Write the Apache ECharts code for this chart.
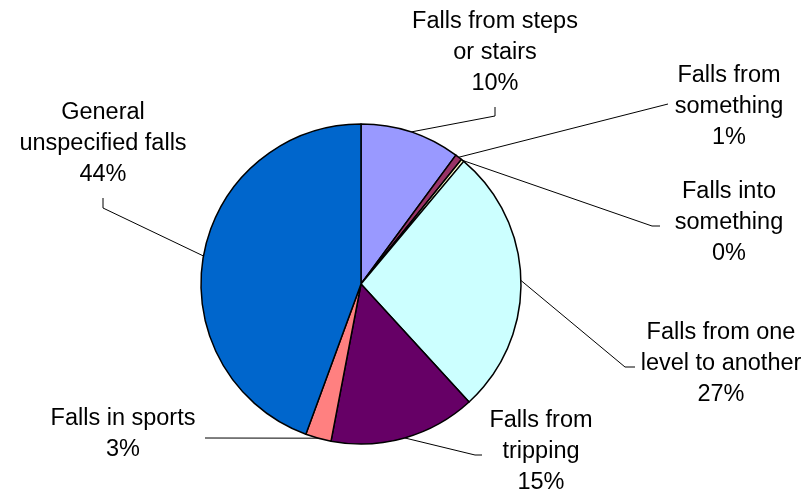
<!DOCTYPE html>
<html>
<head>
<meta charset="utf-8">
<script src="https://cdn.jsdelivr.net/npm/echarts@6/dist/echarts.min.js"></script>
<style>html,body{margin:0;padding:0;background:#fff}#c{width:808px;height:494px}</style>
</head>
<body>
<div id="c"></div>
<script>
var categories = [
  "Falls from steps\nor stairs",
  "Falls from\nsomething",
  "Falls into\nsomething",
  "Falls from one\nlevel to another",
  "Falls from\ntripping",
  "Falls in sports",
  "General\nunspecified falls"
];
var values = [10.1, 0.7, 0.3, 27.1, 14.8, 2.6, 44.4];
var colors = ["#9999FF", "#993366", "#FFFFCC", "#CCFFFF", "#660066", "#FF8080", "#0066CC"];

var total = values.reduce(function(a, b){ return a + b; }, 0);

// label anchor (centre) and leader-line bend/end points, per slice
var labelPos = [
  {x: 495, y: 53,  line: [[495,116],[495,107]]},
  {x: 729, y: 107, line: [[668,104],[668,104]]},
  {x: 729, y: 223, line: [[652,226],[660,226]]},
  {x: 721, y: 364, line: [[625,367],[635,367]]},
  {x: 541, y: 452, line: [[475,455],[482,455]]},
  {x: 123, y: 434, line: [[205,438],[205,438]]},
  {x: 103, y: 144, line: [[103,208],[103,198]]}
];

var chart = echarts.init(document.getElementById('c'), null, {renderer: 'canvas'});
chart.setOption({
  animation: false,
  backgroundColor: '#ffffff',
  series: [{
    type: 'pie',
    center: [361, 284],
    radius: 160,
    startAngle: 90,
    clockwise: true,
    avoidLabelOverlap: false,
    data: categories.map(function(n, i){
      return {name: n, value: values[i], itemStyle: {color: colors[i]}};
    }),
    itemStyle: {borderColor: '#000000', borderWidth: 1.5},
    label: {
      show: true,
      position: 'outside',
      color: '#000000',
      fontFamily: '"Liberation Sans", Arial, sans-serif',
      fontSize: 23.5,
      lineHeight: 31,
      align: 'center',
      formatter: function(p){
        return p.name + '\n' + Math.round(p.value / total * 100) + '%';
      }
    },
    labelLine: {
      show: true,
      lineStyle: {color: '#000000', width: 1}
    },
    labelLayout: function(params){
      var lp = labelPos[params.dataIndex];
      var pts = params.labelLinePoints;
      var start = pts ? pts[0] : lp.line[0];
      return {
        x: lp.x,
        y: lp.y,
        align: 'center',
        verticalAlign: 'middle',
        labelLinePoints: [start, lp.line[0], lp.line[1]]
      };
    },
    emphasis: {disabled: true}
  }]
});
</script>
</body>
</html>
